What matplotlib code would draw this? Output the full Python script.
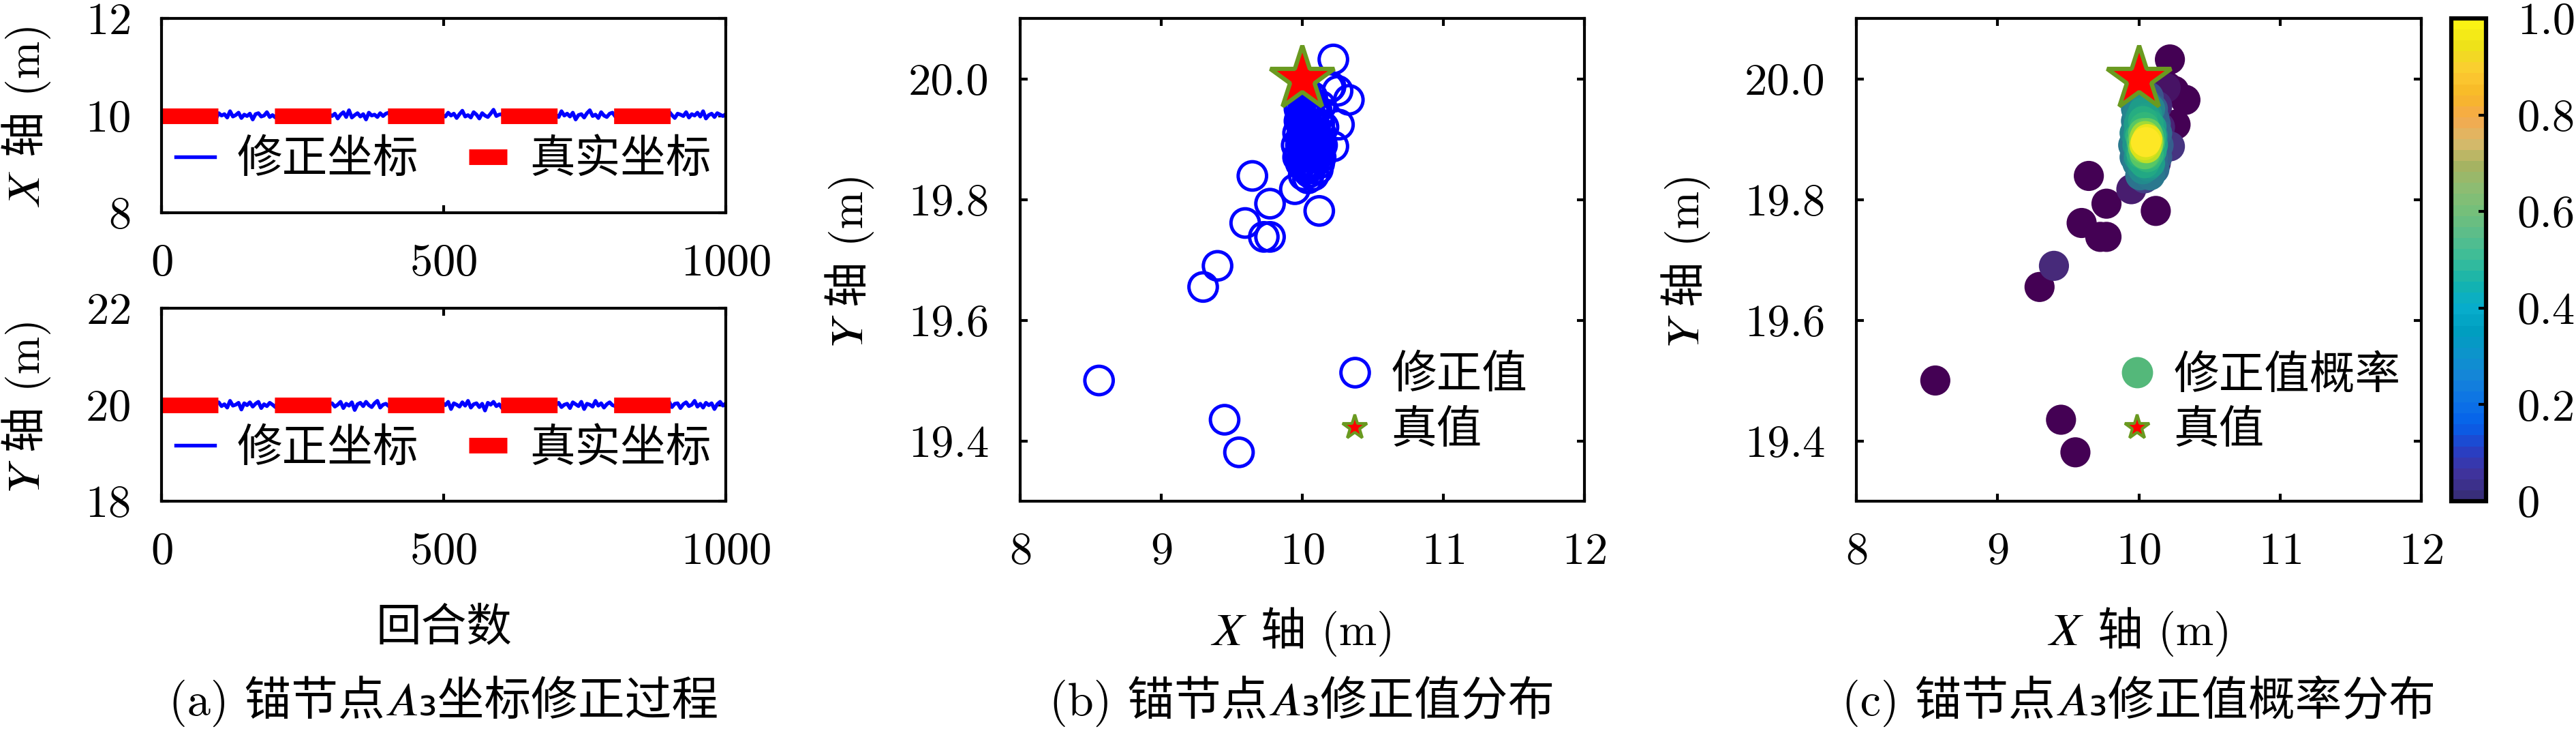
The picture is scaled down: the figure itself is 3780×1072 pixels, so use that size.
import numpy as np
import matplotlib
matplotlib.use('Agg')
import matplotlib.pyplot as plt
from matplotlib.colors import LinearSegmentedColormap, Normalize
from matplotlib.lines import Line2D
import matplotlib.cm as mcm

FAM = ['cmr10', 'Noto Sans CJK SC', 'STIXGeneral', 'DejaVu Sans']
plt.rcParams['font.family'] = FAM
plt.rcParams['mathtext.fontset'] = 'cm'
plt.rcParams['axes.formatter.use_mathtext'] = True
plt.rcParams['axes.unicode_minus'] = False

# ---------------- data ----------------
true_x = 10.0
true_y = 20.0
round_span = [0, 1000]
n_samples = 200
# corrected-coordinate deviations from the true value (cm), sampled every 5 rounds
x_dev_cm = [2, -3, 4, 1, -5, 6, 0, -2, 7, -4, 3, 5, -6, 1, 8, -1, -3, 4, 2, -7,
            5, 0, 3, -4, 9, -2, 1, 6, -5, 2, -1, 4, -8, 3, 5, -2, 0, 7, -3, 1,
            -4, 6, 2, -1, 10, -6, 3, 0, 4, -3, 5, -7, 2, 6, -2, 1, -5, 8, 0, 3,
            -1, 4, -6, 2, 7, -3, 11, -4, 1, 5, -2, 3, -8, 6, 0, 2, -3, 5, -1, 4,
            6, -5, 2, 9, -2, 0, 3, -4, 7, 1, -6, 4, 2, -3, 8, -1, 5, -9, 3, 1,
            -2, 6, 0, 4, -5, 3, 10, -2, 1, -4, 7, 2, -6, 5, 0, -3, 4, 12, -1, 2,
            3, -7, 5, 1, -2, 6, -4, 0, 8, -3, 2, 4, -5, 1, 7, -1, 3, -6, 5, 2,
            -3, 9, 0, 4, -2, 6, -8, 1, 3, -4, 5, 11, -1, 2, -5, 7, 0, -3, 4, 6,
            -2, 1, 8, -6, 3, 0, 5, -4, 2, 10, -1, 4, -7, 3, 6, -2, 0, 5, -3, 8,
            1, -5, 4, 2, -1, 7, -4, 3, 0, 6, -2, 9, -6, 1, 4, -3, 5, 2, -1, 3]
y_dev_cm = [-3, 4, -6, 1, 5, -8, 2, -2, 7, -5, 0, 3, -9, 4, -1, 6, -4, 2, -7, 3,
            5, -3, 1, -6, 8, -2, 0, 4, -10, 3, -1, 5, -4, 2, 6, -7, 1, -3, 4, 0,
            -5, 7, -2, 3, -8, 1, 6, -4, 0, 2, -6, 9, -3, 1, -5, 4, -1, 7, -9, 2,
            3, -4, 0, 6, -7, 2, -2, 5, -11, 1, 4, -3, 6, -1, -5, 3, 8, -6, 0, 2,
            -3, 5, -8, 1, 4, -2, 7, -5, 0, 3, -6, 2, 10, -4, 1, -3, 5, -7, 2, 4,
            -1, 6, -9, 3, 0, -4, 5, -2, 8, -6, 1, 3, -5, 2, -12, 4, 0, 6, -3, 1,
            -7, 4, 2, -1, 5, -5, 3, -8, 0, 6, -2, 1, -4, 7, -6, 2, 3, -3, 9, -1,
            4, -5, 0, 2, -7, 5, 1, -3, 6, -9, 2, 0, -4, 8, -2, 3, -6, 1, 5, -1,
            -3, 6, -10, 2, 4, -5, 1, 7, -2, 0, -6, 3, 5, -4, 2, -8, 0, 4, -1, 6,
            -5, 2, 3, -7, 1, 5, -3, 0, 8, -4, 2, -6, 4, -1, 3, -9, 1, 6, -2, 3]

# corrected positions (m) and their probability
corr_x = [10.22, 10.20, 10.25, 10.33, 10.26, 9.646, 9.947, 9.771, 10.12, 9.595,
          9.727, 9.771, 9.399, 9.297, 8.559, 9.449, 9.551,
          10.19, 10.13, 10.15, 10.12, 10.22,
          10.04, 10.03, 10.11, 10.07, 10.12,
          10.02, 10.05, 9.98, 10.05, 10.01, 10.10, 9.98,
          10.00, 10.03, 10.06, 9.99, 10.06, 10.03, 10.10, 10.08,
          10.01, 10.03, 10.07, 10.09, 10.04, 10.01, 10.02,
          10.03, 10.07, 10.05, 10.02, 10.08, 10.04, 10.06,
          10.035, 10.065, 10.045, 10.055, 10.04, 10.06, 10.05,
          9.97, 9.96, 9.97, 9.98, 10.00, 10.13, 10.14, 10.13, 10.11, 10.08,
          9.99, 10.01, 10.10, 10.12, 9.99,
          10.00, 9.99, 10.00, 10.02, 10.08, 10.10, 10.09, 10.05, 10.01, 10.04,
          10.02, 10.07, 10.09,
          10.03, 10.06, 10.04, 10.07]
corr_y = [20.032, 19.987, 19.980, 19.965, 19.924, 19.839, 19.817, 19.793, 19.781, 19.761,
          19.738, 19.738, 19.690, 19.655, 19.500, 19.435, 19.381,
          19.985, 19.955, 19.920, 19.860, 19.888,
          19.835, 19.975, 19.935, 19.970, 19.890,
          19.960, 19.960, 19.930, 19.845, 19.855, 19.870, 19.875,
          19.925, 19.945, 19.940, 19.900, 19.855, 19.850, 19.905, 19.950,
          19.905, 19.930, 19.925, 19.880, 19.860, 19.880, 19.920,
          19.910, 19.905, 19.875, 19.895, 19.895, 19.920, 19.870,
          19.900, 19.890, 19.905, 19.885, 19.890, 19.900, 19.895,
          19.910, 19.890, 19.870, 19.950, 19.965, 19.910, 19.890, 19.870, 19.850, 19.840,
          19.860, 19.840, 19.950, 19.925, 19.940,
          19.910, 19.890, 19.870, 19.865, 19.860, 19.890, 19.920, 19.935, 19.935, 19.950,
          19.875, 19.875, 19.905,
          19.885, 19.910, 19.875, 19.895]
corr_p = [0.0, 0.0, 0.0, 0.0, 0.0, 0.0, 0.08, 0.0, 0.0, 0.0,
          0.0, 0.0, 0.12, 0.0, 0.0, 0.0, 0.0,
          0.05, 0.12, 0.10, 0.10, 0.15,
          0.18, 0.20, 0.28, 0.25, 0.22,
          0.42, 0.40, 0.40, 0.38, 0.36, 0.35, 0.33,
          0.55, 0.55, 0.52, 0.50, 0.50, 0.48, 0.48, 0.45,
          0.64, 0.62, 0.60, 0.60, 0.60, 0.58, 0.56,
          0.74, 0.72, 0.70, 0.70, 0.68, 0.66, 0.65,
          0.82, 0.84, 0.86, 0.90, 0.94, 0.97, 1.00,
          0.45, 0.40, 0.38, 0.42, 0.40, 0.35, 0.30, 0.30, 0.35, 0.40,
          0.42, 0.38, 0.30, 0.32, 0.45,
          0.56, 0.52, 0.52, 0.58, 0.55, 0.56, 0.55, 0.56, 0.52, 0.50,
          0.64, 0.66, 0.62,
          0.78, 0.76, 0.74, 0.80]

x_ticks_a = [0, 500, 1000]
y_ticks_a1 = [8, 10, 12]
y_ticks_a2 = [18, 20, 22]
xy_ticks_x = [8, 9, 10, 11, 12]
xy_ticks_y = [19.4, 19.6, 19.8, 20.0]
cbar_ticks = [0, 0.2, 0.4, 0.6, 0.8, 1.0]
cbar_ticklabels = ['0', '0.2', '0.4', '0.6', '0.8', '1.0']

# parula-like colour bar
parula_anchors = [
    (0.00, (0.22, 0.18, 0.48)), (0.05, (0.25, 0.20, 0.62)), (0.10, (0.15, 0.25, 0.78)),
    (0.15, (0.02, 0.38, 0.92)), (0.20, (0.05, 0.45, 0.90)), (0.25, (0.08, 0.52, 0.85)),
    (0.30, (0.05, 0.58, 0.80)), (0.35, (0.00, 0.62, 0.75)), (0.40, (0.03, 0.68, 0.80)),
    (0.45, (0.08, 0.70, 0.68)), (0.50, (0.22, 0.74, 0.60)), (0.55, (0.35, 0.74, 0.55)),
    (0.60, (0.45, 0.75, 0.48)), (0.65, (0.55, 0.74, 0.45)), (0.70, (0.65, 0.70, 0.38)),
    (0.75, (0.85, 0.73, 0.42)), (0.80, (0.96, 0.66, 0.30)), (0.85, (0.97, 0.72, 0.15)),
    (0.90, (0.99, 0.80, 0.20)), (0.95, (0.93, 0.88, 0.10)), (1.00, (0.98, 0.95, 0.08))]
parula = LinearSegmentedColormap.from_list('parula', parula_anchors, N=44)

BLUE = '#0000ff'
STAR_EDGE = '#6a9a20'
FS = 16

# ---------------- figure ----------------
W, H = 3780, 1072
fig = plt.figure(figsize=(W / 300, H / 300), dpi=300)


def rect(l, t, r, b):
    return [l / W, 1 - b / H, (r - l) / W, (b - t) / H]


def style(ax):
    ax.tick_params(direction='in', top=True, right=True, length=2.6, width=1.0,
                   labelsize=FS, pad=11)
    for s in ax.spines.values():
        s.set_linewidth(1.0)


ax1 = fig.add_axes(rect(237, 27, 1065, 312))
ax2 = fig.add_axes(rect(237, 452, 1065, 735))
ax3 = fig.add_axes(rect(1497, 27, 2325, 735))
ax4 = fig.add_axes(rect(2724, 27, 3553, 735))
cax = fig.add_axes(rect(3597, 27, 3648, 735))

rounds = np.linspace(1, 1000, n_samples)
for ax, dev, base, yt, lab in [(ax1, x_dev_cm, true_x, y_ticks_a1, '𝑋 轴 (m)'),
                               (ax2, y_dev_cm, true_y, y_ticks_a2, '𝑌 轴 (m)')]:
    ax.plot(rounds, base + np.array(dev) / 100.0, color=BLUE, lw=1.3, label='修正坐标')
    ax.plot(round_span, [base, base], color='red', lw=5.5, linestyle=(0, (3.62, 3.62)),
            dash_capstyle='butt', label='真实坐标')
    ax.set_xlim(0, 1000)
    ax.set_ylim(yt[0], yt[-1])
    ax.set_xticks(x_ticks_a)
    ax.set_yticks(yt)
    ax.set_ylabel(lab, fontsize=FS, labelpad=12)
    style(ax)
    ax.legend(loc='center', bbox_to_anchor=(0.5, 0.27), ncol=2, frameon=False,
              fontsize=FS, handlelength=0.85, handletextpad=0.5, columnspacing=1.1,
              borderpad=0, borderaxespad=0)
ax2.set_xlabel('回合数', fontsize=FS, labelpad=12)

# panel b
ax3.scatter(corr_x, corr_y, s=100, facecolors='none', edgecolors=BLUE, linewidths=1.2,
            zorder=2)
ax3.plot([true_x], [true_y], marker='*', ms=23.6, mfc='red', mec=STAR_EDGE, mew=1.5,
         ls='none', zorder=3)

# panel c (drawn low probability first)
order = np.argsort(corr_p, kind='stable')
cx = np.array(corr_x)[order]
cy = np.array(corr_y)[order]
cp = np.array(corr_p)[order]
ax4.scatter(cx, cy, c=cp, cmap='viridis', vmin=0, vmax=1, s=100, edgecolors='face',
            linewidths=0.6, zorder=2)
ax4.plot([true_x], [true_y], marker='*', ms=23.6, mfc='red', mec=STAR_EDGE, mew=1.5,
         ls='none', zorder=3)

for ax in (ax3, ax4):
    ax.set_xlim(8, 12)
    ax.set_ylim(19.3, 20.1)
    ax.set_xticks(xy_ticks_x)
    ax.set_yticks(xy_ticks_y)
    ax.set_yticklabels(['%.1f' % v for v in xy_ticks_y])
    ax.set_xlabel('𝑋 轴 (m)', fontsize=FS, labelpad=12)
    ax.set_ylabel('𝑌 轴 (m)', fontsize=FS, labelpad=12)
    style(ax)

hb = [Line2D([], [], marker='o', ms=10, mfc='none', mec=BLUE, mew=1.2, ls='none'),
      Line2D([], [], marker='*', ms=9, mfc='red', mec=STAR_EDGE, mew=1.0, ls='none')]
ax3.legend(hb, ['修正值', '真值'], loc='center left', bbox_to_anchor=(0.553, 0.202),
           frameon=False, fontsize=FS, handlelength=1.0, handletextpad=0.3,
           labelspacing=0.3, borderpad=0, borderaxespad=0)
hc = [Line2D([], [], marker='o', ms=10, mfc=(0.33, 0.72, 0.48), mec=(0.33, 0.72, 0.48),
             ls='none'),
      Line2D([], [], marker='*', ms=9, mfc='red', mec=STAR_EDGE, mew=1.0, ls='none')]
ax4.legend(hc, ['修正值概率', '真值'], loc='center left', bbox_to_anchor=(0.457, 0.202),
           frameon=False, fontsize=FS, handlelength=1.0, handletextpad=0.3,
           labelspacing=0.3, borderpad=0, borderaxespad=0)

# colour bar
sm = mcm.ScalarMappable(norm=Normalize(0, 1), cmap=parula)
cb = fig.colorbar(sm, cax=cax, ticks=cbar_ticks)
cb.ax.set_yticklabels(cbar_ticklabels)
cb.ax.tick_params(direction='in', length=2.6, width=1.0, labelsize=FS, pad=11)
cb.outline.set_linewidth(1.5)

# captions
cap_y = 1 - 1028 / H
CAP_FS = 16.5
fig.text((237 + 1065) / 2 / W, cap_y, '(a) 锚节点𝐴₃坐标修正过程', ha='center', va='center',
         fontsize=CAP_FS)
fig.text((1497 + 2325) / 2 / W, cap_y, '(b) 锚节点𝐴₃修正值分布', ha='center', va='center',
         fontsize=CAP_FS)
fig.text((2724 + 3553) / 2 / W, cap_y, '(c) 锚节点𝐴₃修正值概率分布', ha='center', va='center',
         fontsize=CAP_FS)

fig.savefig('out.png', dpi=300)
